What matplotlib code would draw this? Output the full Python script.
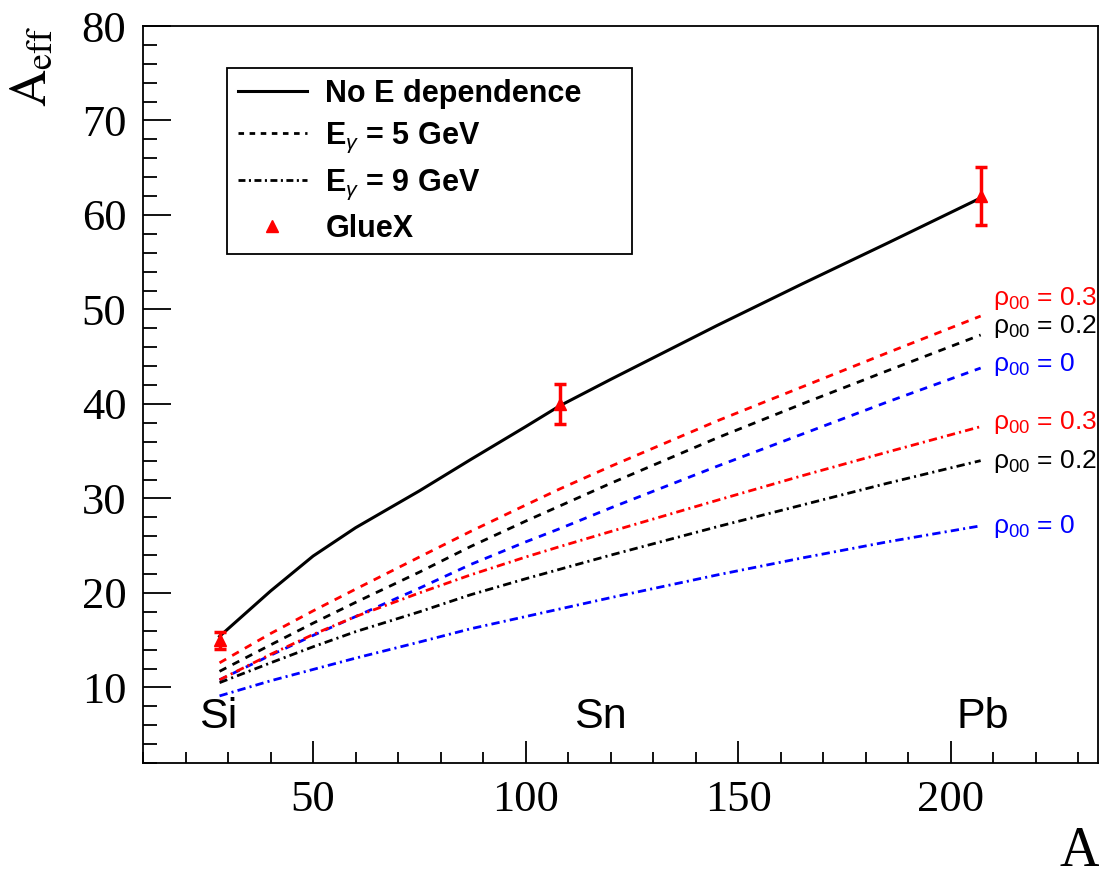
import matplotlib
matplotlib.use('Agg')
import matplotlib.pyplot as plt
from matplotlib.ticker import MultipleLocator
from matplotlib.lines import Line2D

plt.rcParams['mathtext.fontset'] = 'custom'
plt.rcParams['mathtext.rm'] = 'Liberation Sans'
plt.rcParams['mathtext.it'] = 'Liberation Sans:italic'
plt.rcParams['mathtext.bf'] = 'Liberation Sans:bold'
plt.rcParams['lines.scale_dashes'] = False

# mass numbers where the curves were read
A = [28, 40, 50, 60, 75, 87, 100, 108, 120, 145, 165, 185, 207]

# no energy dependence
no_e = [15.4, 20.2, 23.9, 26.9, 30.8, 34.1, 37.6, 39.8, 42.6, 48.3, 52.7, 57.0, 61.8]

# E_gamma = 5 GeV
e5_r03 = [12.6, 15.7, 18.1, 20.4, 23.8, 26.5, 29.3, 31.0, 33.4, 38.2, 41.8, 45.4, 49.3]
e5_r02 = [11.7, 14.5, 16.8, 19.0, 22.2, 24.9, 27.6, 29.2, 31.6, 36.4, 40.0, 43.5, 47.3]
e5_r00 = [10.8, 13.4, 15.5, 17.5, 20.5, 23.0, 25.4, 26.8, 29.0, 33.4, 36.8, 40.2, 43.8]

# E_gamma = 9 GeV
e9_r03 = [10.8, 13.5, 15.6, 17.5, 20.0, 21.9, 23.8, 24.9, 26.5, 29.8, 32.4, 34.9, 37.6]
e9_r02 = [10.5, 12.6, 14.3, 15.9, 18.0, 19.8, 21.5, 22.5, 24.0, 27.0, 29.3, 31.6, 34.0]
e9_r00 = [9.1, 10.7, 11.9, 13.1, 14.8, 16.2, 17.5, 18.3, 19.5, 21.9, 23.7, 25.4, 27.1]

# GlueX points
gx_A = [28, 108, 207]
gx_val = [15.0, 40.0, 62.0]
gx_err = [0.9, 2.1, 3.1]

nuclei = ['Si', 'Sn', 'Pb']
nuc_x = [27.7, 117.5, 207.5]

rho_labels = ['0.3', '0.2', '0', '0.3', '0.2', '0']
rho_y = [51.2, 48.2, 44.2, 38.0, 33.9, 27.0]
rho_colors = ['red', 'black', 'blue', 'red', 'black', 'blue']

dash = (0, (5.5, 5.0))
dashdot = (0, (6.0, 3.0, 1.5, 3.0))

fig = plt.figure(figsize=(10.99, 8.81), dpi=100)
ax = fig.add_axes([143/1099, 1-763/881, (1098-143)/1099, (763-26)/881])

ax.plot(A, no_e, color='black', lw=2.2)
ax.plot(A, e5_r03, color='red', lw=2.0, linestyle=dash)
ax.plot(A, e5_r02, color='black', lw=2.0, linestyle=dash)
ax.plot(A, e5_r00, color='blue', lw=2.0, linestyle=dash)
ax.plot(A, e9_r03, color='red', lw=2.0, linestyle=dashdot)
ax.plot(A, e9_r02, color='black', lw=2.0, linestyle=dashdot)
ax.plot(A, e9_r00, color='blue', lw=2.0, linestyle=dashdot)

ax.errorbar(gx_A, gx_val, yerr=gx_err, fmt='^', color='red', ms=9,
            elinewidth=2.5, capsize=4, capthick=2.5, zorder=5)

for lab, x in zip(nuclei, nuc_x):
    ax.text(x, 6.9, lab, ha='center', va='center', fontsize=31,
            family='Liberation Sans')

for lab, y, c in zip(rho_labels, rho_y, rho_colors):
    ax.text(210, y, 'ρ$_{00}$ = ' + lab, color=c, ha='left', va='center',
            fontsize=19, family='Liberation Sans', math_fontfamily='custom')

ax.set_xlim(10, 234.6)
ax.set_ylim(2, 80)
ax.xaxis.set_major_locator(MultipleLocator(50))
ax.xaxis.set_minor_locator(MultipleLocator(10))
ax.yaxis.set_major_locator(MultipleLocator(10))
ax.yaxis.set_minor_locator(MultipleLocator(2))
ax.tick_params(which='both', direction='in', top=False, right=False, width=1.3)
ax.tick_params(axis='y', which='major', length=20, pad=12)
ax.tick_params(axis='y', which='minor', length=10)
ax.tick_params(axis='x', which='major', length=16, pad=12)
ax.tick_params(axis='x', which='minor', length=8)
for lab in ax.get_xticklabels() + ax.get_yticklabels():
    lab.set_family('Liberation Serif')
    lab.set_fontsize(32)
for s in ax.spines.values():
    s.set_linewidth(1.3)

fig.text(1099-20, 3, 'A', ha='center', va='bottom', fontsize=40,
         family='Liberation Serif', transform=None)
fig.text(32, 881-66, r'$\mathrm{A}_{\mathrm{eff}}$', ha='center', va='center',
         rotation=90, fontsize=37, math_fontfamily='stix', transform=None)

handles = [Line2D([], [], color='black', lw=2.2),
           Line2D([], [], color='black', lw=2.0, linestyle=(0, (4, 4))),
           Line2D([], [], color='black', lw=2.0, linestyle=(0, (5, 2.5, 1.5, 2.5))),
           Line2D([], [], color='red', marker='^', ms=8, linestyle='none')]
labels = ['No E dependence', 'E$_{\\gamma}$ = 5 GeV', 'E$_{\\gamma}$ = 9 GeV', 'GlueX']
leg = ax.legend(handles, labels, loc='upper left', mode='expand',
                bbox_to_anchor=(227/1099, 1-247/881, 405/1099, 179/881),
                bbox_transform=fig.transFigure,
                prop={'family': 'Liberation Sans', 'weight': 'bold', 'size': 22},
                frameon=True, fancybox=False, framealpha=1, edgecolor='black',
                handlelength=2.27, handletextpad=0.6, labelspacing=0.4,
                borderpad=0.35, borderaxespad=0)
leg.get_frame().set_linewidth(1.3)

fig.savefig('out.png', dpi=100)
